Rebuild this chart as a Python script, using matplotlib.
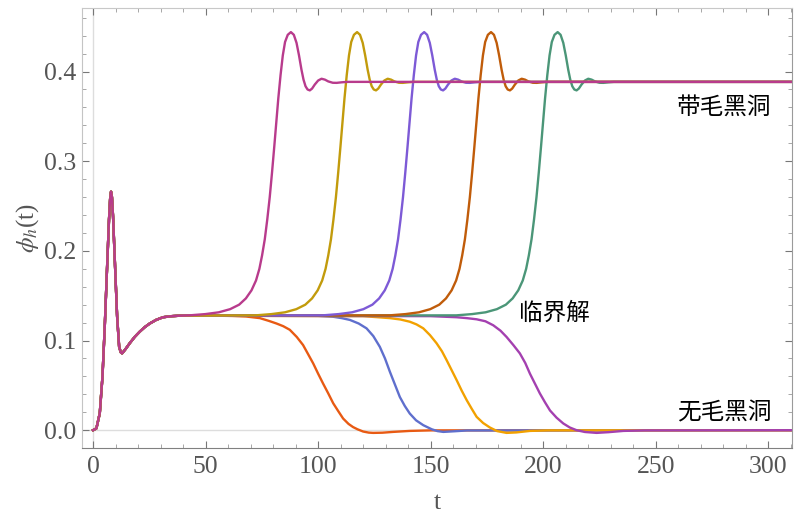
import matplotlib
matplotlib.use("Agg")
import matplotlib.pyplot as plt
from matplotlib.ticker import MultipleLocator

# common early evolution (all runs overlap here)
t_early = [0, 1.5, 3.0, 4.2, 5.2, 6.2, 7.1, 7.6, 8.0, 8.4, 8.9, 9.8, 10.7,
           11.6, 12.3, 12.9, 14.3, 16.3, 18.5, 20.8, 23.0, 25.2, 28.0, 31.1,
           35.0, 38.5]
phi_early = [0.0, 0.002, 0.019, 0.060, 0.115, 0.179, 0.235, 0.258, 0.266,
             0.260, 0.238, 0.182, 0.127, 0.093, 0.087, 0.0857, 0.090, 0.097,
             0.104, 0.110, 0.115, 0.119, 0.123, 0.126, 0.1272, 0.1277]

# hairy black hole branch (rise then ringdown to 0.388)
phi_hairy = [0.1281, 0.1295, 0.1315, 0.135, 0.140, 0.147, 0.156, 0.167, 0.180,
             0.195, 0.213, 0.235, 0.260, 0.287, 0.316, 0.343, 0.370, 0.396,
             0.418, 0.433, 0.441, 0.444, 0.441, 0.432, 0.418, 0.402, 0.391,
             0.3836, 0.380, 0.379, 0.381, 0.3855, 0.390, 0.392, 0.391, 0.389,
             0.3875, 0.3874, 0.388, 0.3885, 0.3885]
t_magenta = [42.9, 49.9, 55.9, 60.9, 64.9, 67.9, 70.4, 72.4, 73.9, 75.1,
             76.3, 77.4, 78.5, 79.5, 80.5, 81.4, 82.3, 83.3, 84.3, 85.3,
             86.5, 87.9, 89.2, 90.4, 91.5, 92.6, 93.5, 94.4, 95.3, 96.3,
             97.3, 98.5, 100.0, 101.5, 103.0, 104.5, 106.5, 108.2, 110.4, 112.9,
             310]
t_gold = [72.3, 79.3, 85.3, 90.3, 94.3, 97.3, 99.8, 101.8, 103.3, 104.5,
          105.7, 106.8, 107.9, 108.9, 109.9, 110.8, 111.7, 112.7, 113.7, 114.7,
          115.9, 117.3, 118.6, 119.8, 120.9, 122.0, 122.9, 123.8, 124.7, 125.7,
          126.7, 127.9, 129.4, 130.9, 132.4, 133.9, 135.9, 137.6, 139.8, 142.3,
          310]
t_purple = [102.1, 109.1, 115.1, 120.1, 124.1, 127.1, 129.6, 131.6, 133.1, 134.3,
            135.5, 136.6, 137.7, 138.7, 139.7, 140.6, 141.5, 142.5, 143.5, 144.5,
            145.7, 147.1, 148.4, 149.6, 150.7, 151.8, 152.7, 153.6, 154.5, 155.5,
            156.5, 157.7, 159.2, 160.7, 162.2, 163.7, 165.7, 167.4, 169.6, 172.1,
            310]
t_brown = [131.8, 138.8, 144.8, 149.8, 153.8, 156.8, 159.3, 161.3, 162.8, 164.0,
           165.2, 166.3, 167.4, 168.4, 169.4, 170.3, 171.2, 172.2, 173.2, 174.2,
           175.4, 176.8, 178.1, 179.3, 180.4, 181.5, 182.4, 183.3, 184.2, 185.2,
           186.2, 187.4, 188.9, 190.4, 191.9, 193.4, 195.4, 197.1, 199.3, 201.8,
           310]
t_green = [161.4, 168.4, 174.4, 179.4, 183.4, 186.4, 188.9, 190.9, 192.4, 193.6,
           194.8, 195.9, 197.0, 198.0, 199.0, 199.9, 200.8, 201.8, 202.8, 203.8,
           205.0, 206.4, 207.7, 208.9, 210.0, 211.1, 212.0, 212.9, 213.8, 214.8,
           215.8, 217.0, 218.5, 220.0, 221.5, 223.0, 225.0, 226.7, 228.9, 231.4,
           310]

# bald (no-hair) branch, decaying to zero
t_red = [45, 55, 62, 68, 74.1, 78, 81.5, 84.5, 87.4, 90.5, 93.3, 95.5, 97.8,
         100, 102.2, 104.5, 106.7, 109, 111.1, 113.5, 115.5, 117.5, 120,
         122.5, 124.4, 128.5, 133.3, 140.7, 150, 310]
phi_red = [0.1278, 0.1277, 0.1274, 0.1268, 0.125, 0.122, 0.119, 0.116, 0.112,
           0.104, 0.095, 0.085, 0.0745, 0.063, 0.052, 0.041, 0.030, 0.021,
           0.013, 0.007, 0.0035, 0.001, -0.0015, -0.0027, -0.003, -0.0028,
           -0.0019, -0.0008, -0.0002, 0.0]
t_blue = [100, 106.7, 110.5, 114.1, 118, 121.5, 124.5, 127.4, 129.7, 131.9,
          134.1, 136.3, 138.5, 140.7, 143.5, 146.7, 150.5, 153, 155.6, 160.5,
          166, 310]
phi_blue = [0.1275, 0.1265, 0.125, 0.123, 0.119, 0.1136, 0.105, 0.093, 0.080,
            0.065, 0.051, 0.037, 0.027, 0.0186, 0.011, 0.0056, 0.001, -0.001,
            -0.0019, -0.0012, -0.0003, 0.0]
t_orange = [120, 131.9, 136.5, 140.7, 143.7, 146.7, 149.7, 152.6, 155, 157.1,
            159.3, 161.5, 163.8, 166, 168.2, 170.4, 173.3, 176.3, 179.5, 183.7,
            188, 194.1, 202, 310]
phi_orange = [0.1272, 0.125, 0.1235, 0.121, 0.118, 0.1136, 0.106, 0.097, 0.088,
              0.078, 0.067, 0.056, 0.044, 0.0335, 0.024, 0.0149, 0.008, 0.003,
              -0.001, -0.003, -0.0025, -0.0008, -0.0002, 0.0]
t_violet = [150, 161.5, 166, 170.4, 174.3, 177.8, 181, 183.7, 186.7, 189.6,
            192, 194.1, 196.3, 198.5, 200.8, 203, 205.9, 208.9, 211.8, 214.8,
            218.5, 223.7, 229, 235.6, 245, 310]
phi_violet = [0.1272, 0.126, 0.125, 0.1237, 0.1215, 0.117, 0.111, 0.104, 0.095,
              0.0857, 0.075, 0.063, 0.052, 0.041, 0.031, 0.022, 0.014, 0.0075,
              0.003, 0.0, -0.002, -0.003, -0.0022, -0.0008, -0.0002, 0.0]

plt.rcParams['font.family'] = ['Liberation Serif', 'DejaVu Serif']
plt.rcParams['mathtext.fontset'] = 'stix'

fig = plt.figure(figsize=(8, 5.27), dpi=100)
ax = fig.add_axes([0.1025, 0.15, 0.8875, 0.835])

ax.axhline(0, color='#dddddd', lw=1, zorder=0)
ax.axvline(0, color='#dddddd', lw=1, zorder=0)

lw = 1.7
# lower branch first, so hairy curves sit on top
for t, phi, c in [(t_red, phi_red, '#E85A13'),
                  (t_blue, phi_blue, '#5F6FCD'),
                  (t_orange, phi_orange, '#F2A100'),
                  (t_violet, phi_violet, '#A440B0')]:
    ax.plot(t_early + t, phi_early + phi, color=c, lw=lw)

for t, c in [(t_green, '#4B9678'),
             (t_brown, '#C05C0A'),
             (t_purple, '#7D5AD6'),
             (t_gold, '#C29B0C'),
             (t_magenta, '#B83B8C')]:
    ax.plot(t_early + t, phi_early + phi_hairy, color=c, lw=lw)

ax.set_xlim(-4.9, 310.5)
ax.set_ylim(-0.0198, 0.471)

ax.xaxis.set_major_locator(MultipleLocator(50))
ax.xaxis.set_minor_locator(MultipleLocator(10))
ax.yaxis.set_major_locator(MultipleLocator(0.1))
ax.yaxis.set_minor_locator(MultipleLocator(0.02))
ax.yaxis.set_major_formatter(plt.FuncFormatter(lambda v, p: f"{v:.1f}"))

ax.tick_params(which='both', direction='in', top=True, right=True,
               color='#777777', labelsize=18.5, labelcolor='#555555')
ax.tick_params(which='major', length=5)
ax.tick_params(which='minor', length=2.7, color='#999999')
ax.tick_params(axis='x', pad=6)
ax.tick_params(axis='y', pad=4)

ax.spines['bottom'].set_color('#808080')
ax.spines['right'].set_color('#9a9a9a')
ax.spines['left'].set_color('#c4c4c4')
ax.spines['top'].set_color('#c8c8c8')

ax.set_xlabel('t', fontsize=18.5, color='#555555', labelpad=10)
ax.set_ylabel(r'$\phi_h$(t)', fontsize=18, color='#555555', labelpad=2)

cjk = ['Noto Sans CJK SC', 'DejaVu Sans']
ax.text(280.3, 0.36, '带毛黑洞', family=cjk, fontsize=17, ha='center', va='center')
ax.text(205, 0.130, '临界解', family=cjk, fontsize=17, ha='center', va='center')
ax.text(280.3, 0.0196, '无毛黑洞', family=cjk, fontsize=17, ha='center', va='center')

fig.savefig('out.png', dpi=100)
